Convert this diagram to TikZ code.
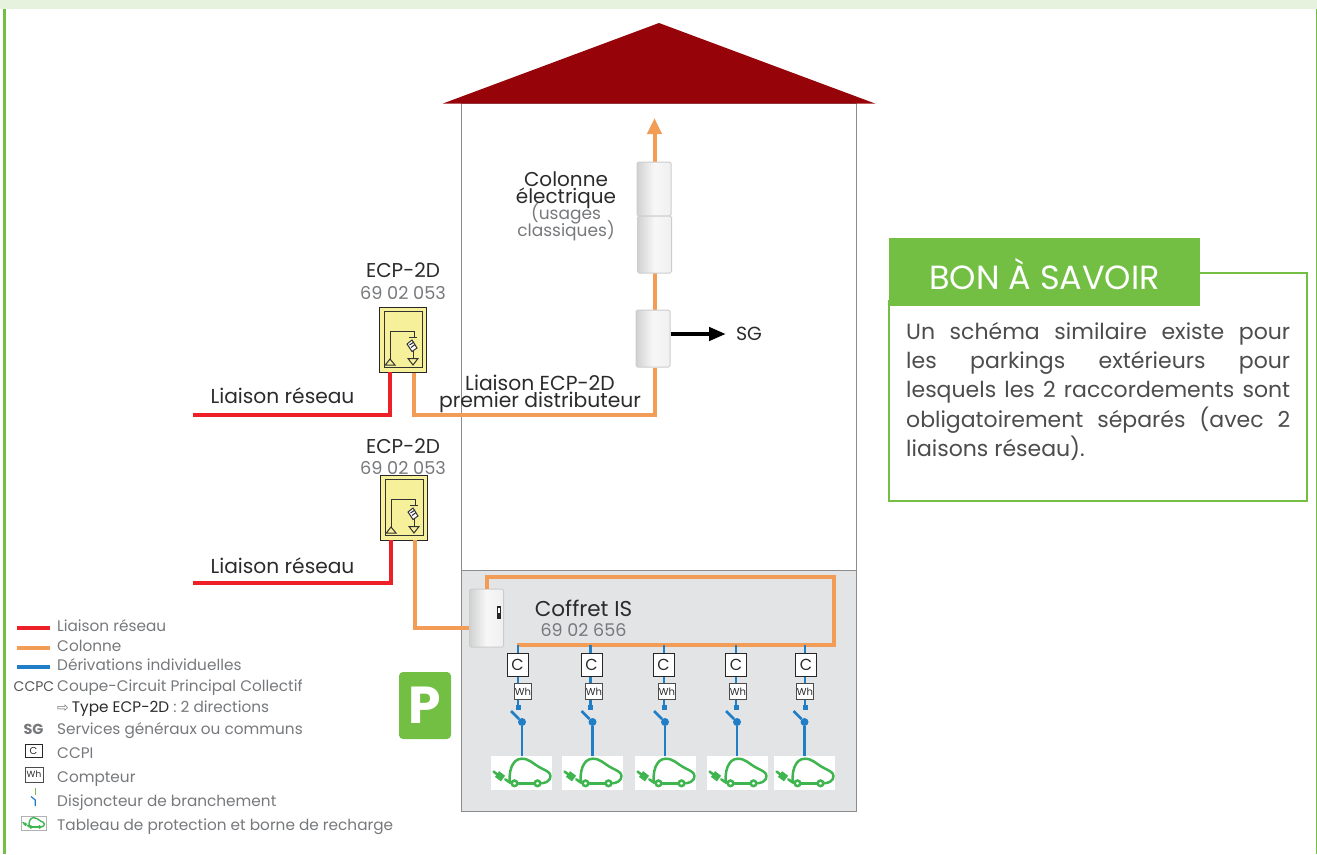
\documentclass[tikz,border=0pt]{standalone}
\usepackage{fontspec}
\setmainfont{Poppins}
\newfontfamily\symfont{DejaVu Sans}
\usetikzlibrary{arrows.meta}
\lineskiplimit=-100pt
\normallineskiplimit=-100pt
\definecolor{vert}{HTML}{72BF44}
\definecolor{vertclair}{HTML}{E7F2DE}
\definecolor{toit}{HTML}{96040A}
\definecolor{rouge}{HTML}{EE2027}
\definecolor{orange}{HTML}{F39C56}
\definecolor{bleu}{HTML}{1F7EC6}
\definecolor{gristexte}{HTML}{76787B}
\definecolor{noirtexte}{HTML}{2B2B2D}
\definecolor{fondcoffret}{HTML}{E3E4E6}
\definecolor{jaune}{HTML}{F7F09A}
\definecolor{vertcar}{HTML}{3FB54F}
\tikzset{
	reseau/.style={draw=rouge, line width=4pt},
	colonne/.style={draw=orange, line width=4pt},
	derivation/.style={draw=bleu, line width=2.6pt},
	panel/.style={draw=black!20, line width=1pt, left color=black!18, right color=black!6, middle color=black!3, rounded corners=1.5pt, inner sep=0pt, minimum width=#1},
	panel/.default=34pt,
	label/.style={text=noirtexte, font=\fontsize{20}{17}\selectfont, align=center, inner sep=0pt},
	ref/.style={text=gristexte, font=\fontsize{17.7}{17}\selectfont, align=center, inner sep=0pt},
	legende/.style={text=gristexte, font=\fontsize{15.3}{15}\selectfont, anchor=base west, inner sep=0pt},
	boxc/.style={draw=black!85, fill=white, line width=1pt, inner sep=0pt, minimum width=21pt, minimum height=23pt, font=\fontsize{16}{16}\selectfont, text=noirtexte},
	boxwh/.style={draw=black!70, fill=white, line width=1pt, inner sep=0pt, minimum width=17.5pt, minimum height=15.5pt, font=\fontsize{10}{10}\selectfont, text=noirtexte},
	carline/.style={line width=2.5pt},
	carfactor/.initial=1,
	pics/carpic/.style={code={
		\draw[vertcar, carline, line cap=round, line join=round] (-16.3,6.3) -- (-11.5,9.7) .. controls (-13,0) and (-10,-14.3) .. (0.3,-14.3) .. controls (8,-14.3) and (12,-9) .. (17,-6.3) .. controls (24,-2.5) and (29,-1) .. (29,3) .. controls (29,8) and (24,10.3) .. (19,10.3);
		\draw[vertcar, carline] (-4,10.3) -- (13,10.3);
		\draw[vertcar, carline, fill=white] (16,10.3) circle (2.8);
		\draw[vertcar, carline, fill=white] (-7,10.3) circle (2.8);
		\draw[vertcar, carline, line cap=round] (-22,3) -- (-28,-1.5);
		\draw[vertcar, line width=7pt*\pgfkeysvalueof{/tikz/carfactor}] (-24.5,1) -- (-18.5,5.5);
	}},
	pics/ecppic/.style={code={
		\draw[line width=1pt, draw=black!80] (5,4) rectangle (43,60);
		\draw[line width=1pt, draw=black!80] (11,53) -- (11,24.5) -- (35,24.5) -- (35,31);
		\draw[line width=1pt, draw=black!80] (11,52) -- (6.3,58) -- (16,58) -- cycle;
		\draw[line width=1pt, draw=black!80] (30,30.5) -- (38,30.5);
		\draw[line width=1pt, draw=black!80, fill=white] (28,37) -- (33,33) -- (38,41) -- (33,44.5) -- cycle;
		\draw[line width=1pt, draw=black!80] (30.5,38) -- (35,35) (32,40.5) -- (36,37.5);
		\draw[line width=1pt, draw=black!80] (34,44) -- (34,52);
		\draw[line width=1pt, draw=black!80] (29,51.5) -- (39,51.5) -- (34,58) -- cycle;
	}},
}

\begin{document}
\begin{tikzpicture}[x=1pt, y=-1pt]
	%%%%% CADRE %%%%%
	\useasboundingbox (0,0) rectangle (1317,854);
	\fill[vertclair] (0,0) rectangle (1317,9);
	\fill[vert] (3,9) rectangle (5.5,854);
	\fill[vert] (1315.5,9) rectangle (1317,854);

	%%%%% BATIMENT %%%%%
	\draw[draw=black!45, line width=0.8pt] (461.5,103) rectangle (856,570.5);
	\draw[draw=black!45, fill=fondcoffret, line width=0.8pt] (461.5,570.5) rectangle (856,811);
	\fill[toit] (443,103.5) -- (659,23) -- (875,103.5) -- cycle;

	%%%%% COLONNE %%%%%
	\coordinate (fleche) at (654.5,118);
	\coordinate (angle) at (655,415);
	\coordinate (angleb) at (414,415);
	\draw[colonne, -{Triangle[length=16pt,width=14pt]}] (654.5,170) -- (fleche);
	\draw[colonne] (654.5,270) -- (654.5,315);
	\node[panel, minimum height=54pt] (panela) at (654,189) {};
	\node[panel, minimum height=57pt] (panelb) at (654.5,244.5) {};
	\node[panel, minimum height=57pt] (panelc) at (653,338.5) {};
	\draw[colonne] (panelc.south -| angle) -- (angle) -- (angleb) -- (414,372);
	\coordinate (finsg) at (726,334);
	\draw[line width=4.5pt, -{Triangle[length=17pt,width=13pt]}] (panelc.east |- finsg) -- (finsg);
	\node[text=noirtexte, font=\fontsize{19}{19}\selectfont, inner sep=0pt] (sg) at (749,334) {SG};
	\node[label] (colonne) at (566,190) {Colonne\\électrique};
	\node[ref, font=\fontsize{17}{17}\selectfont] (usages) at (566,222) {(usages\\classiques)};
	\node[label, font=\fontsize{20.3}{17}\selectfont] (liaison) at (540,393.5) {Liaison ECP-2D\\premier distributeur};

	%%%%% ECP-2D %%%%%
	\node[draw=black!85, fill=jaune, line width=1pt, minimum width=47pt, minimum height=65pt, inner sep=0pt] (ecpa) at (402.5,339.5) {};
	\pic at (379,307) {ecppic};
	\node[draw=black!85, fill=jaune, line width=1pt, minimum width=47pt, minimum height=65pt, inner sep=0pt] (ecpb) at (403.5,507.5) {};
	\pic at (380,475) {ecppic};
	\node[label] (ecpaname) at (403,270) {ECP-2D};
	\node[ref] (ecparef) at (403,293) {69 02 053};
	\node[label] (ecpbname) at (403,446) {ECP-2D};
	\node[ref] (ecpbref) at (403,468) {69 02 053};

	\coordinate (reseaua) at (193,415);
	\coordinate (reseaub) at (193,583);
	\draw[reseau] (reseaua) -- (390,415) -- (390,372);
	\draw[reseau] (reseaub) -- (391,583) -- (391,540);
	\node[label, font=\fontsize{20.2}{17}\selectfont] (liaisona) at (282.5,396) {Liaison réseau};
	\node[label, font=\fontsize{20.2}{17}\selectfont] (liaisonb) at (282.5,566) {Liaison réseau};

	%%%%% COFFRET IS %%%%%
	\node[panel, minimum height=58pt] (coffret) at (486.5,618) {};
	\fill[black!85] (497,606) rectangle (501,619);
	\fill[white] (498.2,608) rectangle (499.8,613);
	\draw[colonne] (415,540) -- (415,628) -- (coffret.west |- 0,628);
	\draw[colonne] (487,589) -- (487,576.5) -- (833.5,576.5) -- (833.5,645) -- (517,645);
	\node[label, font=\fontsize{21.5}{17}\selectfont] (coffretname) at (583.5,608) {Coffret IS};
	\node[ref, font=\fontsize{17.5}{17}\selectfont] (coffretref) at (583.5,630) {69 02 656};

	\foreach \i/\xl/\xc/\xw/\xs/\xv in {1/518/517.5/523/522/521.5, 2/590.5/591.5/594/592.5/592.5, 3/664/663.5/667/665/665.5, 4/736/736/738/737/737.5, 5/805/806/805/804.5/804.5}{
		\draw[derivation] (\xl,645) -- (\xl,708);
		\node[boxc] (c\i) at (\xc,664.5) {C};
		\node[boxwh] (wh\i) at (\xw,691.5) {Wh};
		\fill[bleu] (\xl-2.5,704.5) rectangle (\xl+2.5,709.5);
		\coordinate (lame\i) at (\xs-11,711);
		\node[circle, fill=bleu, inner sep=0pt, minimum size=8pt] (dis\i) at (\xs,722) {};
		\draw[derivation] (lame\i) -- (dis\i);
		\node[fill=white, inner sep=0pt, minimum width=61pt, minimum height=34pt] (car\i) at (\xv,773) {};
		\draw[derivation] (dis\i) -- (car\i.north -| dis\i);
		\pic at (car\i) {carpic};
	}

	%%%%% PARKING %%%%%
	\node[fill=vert, rounded corners=4pt, minimum width=52pt, minimum height=67pt, inner sep=0pt, text=white, font=\fontsize{52}{52}\bfseries\selectfont] (parking) at (425,705.5) {P};

	%%%%% BON A SAVOIR %%%%%
	\draw[vert, line width=2.4pt] (1190,273) -- (1307,273) -- (1307,501) -- (889,501) -- (889,300);
	\fill[vert] (889,238) rectangle (1200,306);
	\node[inner sep=0pt, text=white, font=\fontsize{33.5}{33.5}\selectfont] (savoir) at (1044.5,274) {BON À SAVOIR};
	\node[anchor=north west, inner sep=0pt, text width=384pt, align=justify, text=black!70, font=\fontsize{22}{29.2}\selectfont] (savoirtexte) at (906,322) {Un schéma similaire existe pour\linebreak les parkings extérieurs pour\linebreak lesquels les 2 raccordements sont\linebreak obligatoirement séparés (avec 2\linebreak liaisons réseau).};

	%%%%% LEGENDE %%%%%
	\draw[reseau] (17,628) -- (50,628);
	\draw[colonne] (17,647.5) -- (50,647.5);
	\draw[bleu, line width=4pt] (17,667) -- (50,667);
	\foreach \i/\y/\t in {1/631.5/Liaison réseau, 2/651.5/Colonne, 3/670.5/Dérivations individuelles, 4/691.5/Coupe-Circuit Principal Collectif, 6/734.5/Services généraux ou communs, 7/758.5/CCPI, 8/782.5/Compteur, 9/806.5/Disjoncteur de branchement, 10/830.5/Tableau de protection et borne de recharge}{
		\node[legende] (leg\i) at (57,\y) {\t};
	}
	\node[legende] (leg5) at (57,712.5) {{\symfont\fontsize{14}{14}\selectfont ⇨}\hspace{3pt}\textcolor{noirtexte}{Type ECP-2D} : 2 directions};
	\node[legende, anchor=base, text=noirtexte!80, font=\fontsize{14}{15}\selectfont] (ccpc) at (34,691) {CCPC};
	\node[legende, anchor=base, font=\fontsize{14.5}{15}\bfseries\selectfont] (sglegende) at (33.5,734) {SG};
	\node[draw=black!85, line width=1pt, minimum width=17pt, minimum height=13pt, inner sep=0pt, text=noirtexte, font=\fontsize{10}{10}\selectfont] (cleg) at (33.5,750.5) {C};
	\node[draw=black!70, line width=1pt, minimum width=18pt, minimum height=15pt, inner sep=0pt, text=noirtexte, font=\fontsize{9}{9}\selectfont] (whleg) at (34,774.5) {Wh};
	\draw[vert, line width=1.4pt] (35.3,788) -- (35.3,795);
	\draw[bleu, line width=1.2pt] (31,796.5) -- (35.3,800) -- (35.3,806);
	\node[draw=black!30, fill=white, minimum width=25pt, minimum height=14pt, inner sep=0pt] (carleg) at (33.5,823) {};
	\pic[scale=.38, carline/.style={line width=1.4pt}, carfactor=.38] at (carleg) {carpic};
\end{tikzpicture}
\end{document}
